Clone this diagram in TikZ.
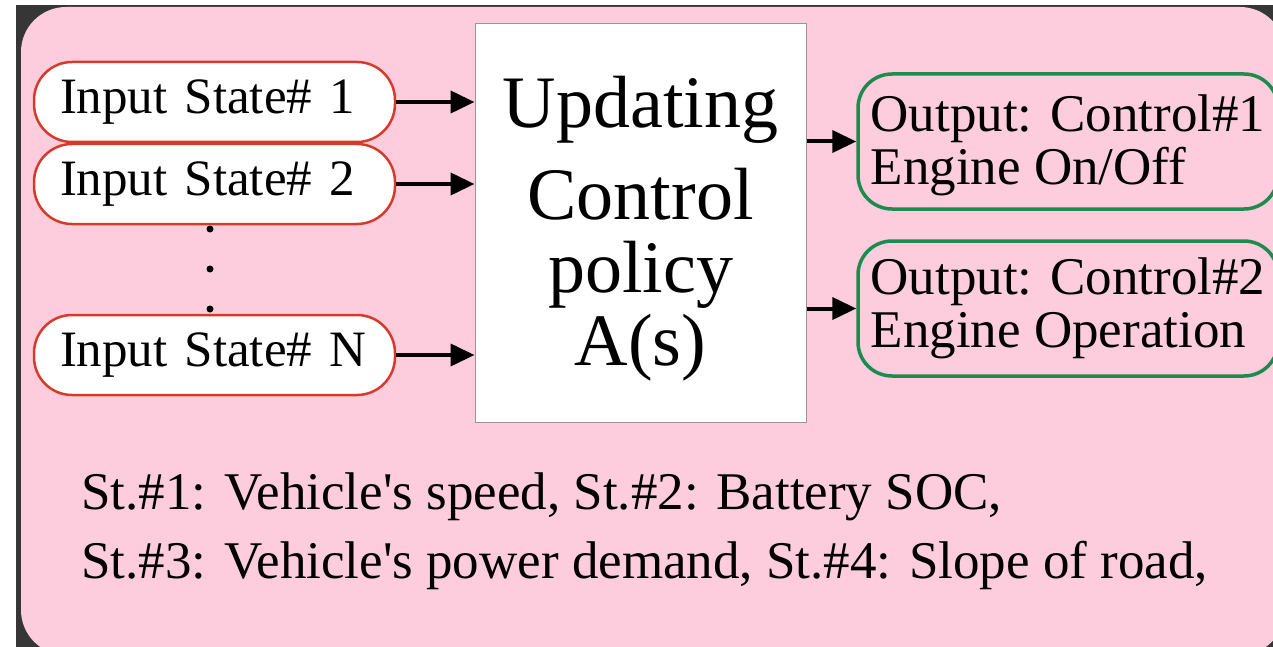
\documentclass[tikz,border=0pt]{standalone}
\usepackage{fontspec}
\setmainfont{Liberation Serif}
\usetikzlibrary{arrows.meta}
\definecolor{bgpink}{RGB}{253,205,221}
\definecolor{frameclr}{RGB}{54,54,54}
\definecolor{inred}{RGB}{214,58,42}
\definecolor{outgreen}{RGB}{30,138,78}
\definecolor{boxgray}{RGB}{150,150,150}
\begin{document}
\begin{tikzpicture}[x=1pt,y=-1pt,
  inbox/.style={draw=inred, line width=2.5pt, fill=white, rounded corners=38pt,
    minimum height=80pt, text width=309pt, inner xsep=26pt, inner ysep=0pt,
    align=left, font=\fontsize{51}{51}\selectfont},
  outbox/.style={draw=outgreen, line width=3.5pt, rounded corners=34pt,
    minimum width=420pt, minimum height=135pt, align=left, inner sep=0pt,
    font=\fontsize{53}{53}\selectfont},
  policybox/.style={draw=boxgray, line width=1pt, fill=white,
    minimum width=331pt, minimum height=398pt, align=center, inner sep=0pt,
    font=\fontsize{74}{73}\selectfont},
  flow/.style={line width=4pt, -{Triangle[length=24pt,width=22pt]}},
  ellipsisdot/.style={circle, fill=black, inner sep=0pt, minimum size=7pt},
  legendtext/.style={anchor=north west, inner sep=0pt, align=left,
    font=\fontsize{53}{69}\selectfont}
]
\useasboundingbox (0,0) rectangle (1273,647);
\clip (0,0) rectangle (1273,647);
\fill[white] (0,0) rectangle (1273,647);
\fill[frameclr] (16,5) rectangle (1273,647);
\fill[bgpink, rounded corners=45pt] (21,7) rectangle (1285,655);

\node[inbox] (in1) at (214.5,102) {Input State\# 1};
\node[inbox] (in2) at (214.5,184) {Input State\# 2};
\node[inbox] (inN) at (214.5,355) {Input State\# N};

\node[ellipsisdot] (d1) at (210,229) {};
\node[ellipsisdot] (d2) at (210,269) {};
\node[ellipsisdot] (d3) at (210,309) {};

\node[policybox] (policy) at (640.5,223) {\rule{0pt}{63pt}Updating\\[19pt]Control\\policy\\A(s)};

\node[outbox] (out1) at (1068,141.5) {\rule{0pt}{44pt}Output: Control\#1\\Engine On/Off};
\node[outbox] (out2) at (1068,308.5) {Output: Control\#2\\Engine Operation};

\draw[flow] (in1.east) -- (in1.east -| policy.west);
\draw[flow] (in2.east) -- (in2.east -| policy.west);
\draw[flow] (inN.east) -- (inN.east -| policy.west);
\draw[flow] (policy.east |- out1.west) -- (out1.west);
\draw[flow] (policy.east |- out2.west) -- (out2.west);

\node[legendtext] (legend) at (81,473) {St.\#1: Vehicle\textquotesingle s speed, St.\#2: Battery SOC,\\St.\#3: Vehicle\textquotesingle s power demand, St.\#4: Slope of road,};
\end{tikzpicture}
\end{document}
